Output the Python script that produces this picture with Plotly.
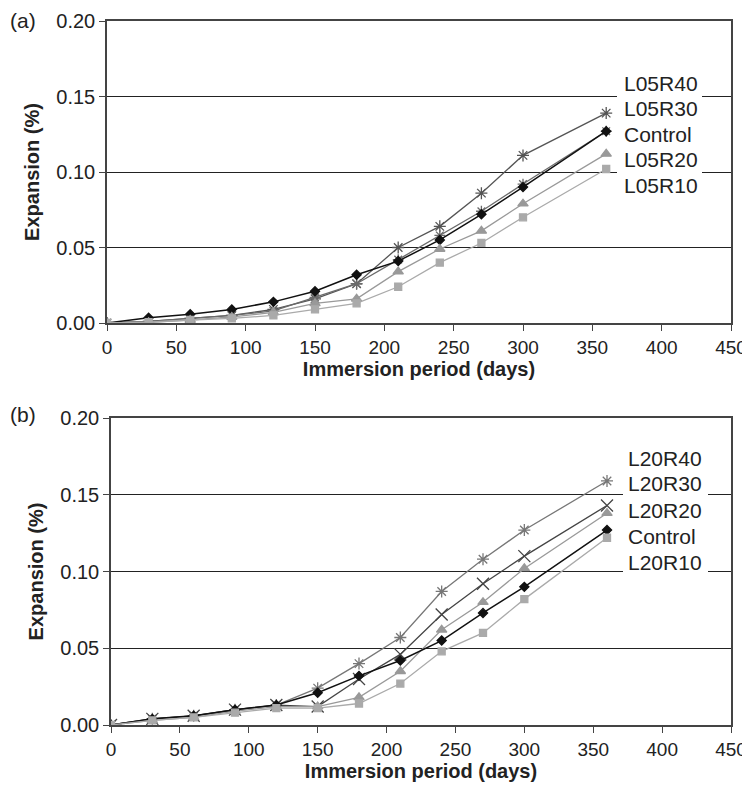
import plotly.graph_objects as go

# page body has an 8px margin, so the figure is placed at (8, 8)
OX, OY = 8, 8
W, H = 750 - OX, 791 - 2 * OY

days = [0, 30, 60, 90, 120, 150, 180, 210, 240, 270, 300, 360]

# Panel (a)
a_names = ["L05R40", "L05R30", "Control", "L05R20", "L05R10"]
a_L05R40 = [0, 0.001, 0.003, 0.005, 0.009, 0.016, 0.026, 0.050, 0.064, 0.086, 0.111, 0.139]
a_L05R30 = [0, 0.001, 0.003, 0.005, 0.008, 0.017, 0.026, 0.042, 0.058, 0.074, 0.092, 0.127]
a_control = [0, 0.0035, 0.0058, 0.009, 0.014, 0.021, 0.032, 0.041, 0.055, 0.072, 0.090, 0.127]
a_L05R20 = [0, 0.0005, 0.002, 0.004, 0.007, 0.013, 0.016, 0.034, 0.049, 0.061, 0.079, 0.112]
a_L05R10 = [0, 0.0005, 0.002, 0.003, 0.005, 0.009, 0.013, 0.024, 0.040, 0.053, 0.070, 0.102]

# Panel (b)
b_names = ["L20R40", "L20R30", "L20R20", "Control", "L20R10"]
b_L20R40 = [0, 0.004, 0.006, 0.010, 0.013, 0.024, 0.040, 0.057, 0.087, 0.108, 0.127, 0.159]
b_L20R30 = [0, 0.004, 0.006, 0.010, 0.013, 0.012, 0.030, 0.046, 0.072, 0.092, 0.110, 0.143]
b_L20R20 = [0, 0.003, 0.005, 0.009, 0.012, 0.012, 0.018, 0.035, 0.062, 0.080, 0.102, 0.138]
b_control = [0, 0.004, 0.006, 0.010, 0.013, 0.021, 0.032, 0.042, 0.055, 0.073, 0.090, 0.127]
b_L20R10 = [0, 0.003, 0.005, 0.008, 0.011, 0.011, 0.014, 0.027, 0.048, 0.060, 0.082, 0.122]

x_ticks = [0, 50, 100, 150, 200, 250, 300, 350, 400, 450]
y_ticks = [0.00, 0.05, 0.10, 0.15, 0.20]

FONT = "Liberation Sans, Arial, sans-serif"

def px(x):
    return (x - OX) / W

def py(y):
    return 1 - (y - OY) / H

fig = go.Figure()

styles_a = [
    (a_L05R40, "asterisk-open", 10, "#555555", 1.3),
    (a_L05R30, "asterisk-open", 9, "#6a6a6a", 1.3),
    (a_control, "diamond", 7, "#111111", 1.5),
    (a_L05R20, "triangle-up", 9, "#999999", 1.3),
    (a_L05R10, "square", 7, "#aaaaaa", 1.3),
]
for (vals, sym, sz, col, lw), name in zip(styles_a, a_names):
    fig.add_trace(go.Scatter(
        x=days, y=vals, name=name, mode="lines+markers",
        line=dict(color=col, width=lw),
        marker=dict(symbol=sym, size=sz, color=col, line=dict(color=col, width=1.3)),
        xaxis="x", yaxis="y", showlegend=False))

styles_b = [
    (b_L20R40, "asterisk-open", 10, "#777777", 1.3),
    (b_L20R30, "x-thin-open", 12, "#444444", 1.3),
    (b_L20R20, "triangle-up", 9, "#999999", 1.3),
    (b_control, "diamond", 7, "#111111", 1.5),
    (b_L20R10, "square", 7, "#aaaaaa", 1.3),
]
for (vals, sym, sz, col, lw), name in zip(styles_b, b_names):
    fig.add_trace(go.Scatter(
        x=days, y=vals, name=name, mode="lines+markers",
        line=dict(color=col, width=lw),
        marker=dict(symbol=sym, size=sz, color=col, line=dict(color=col, width=1.3)),
        xaxis="x2", yaxis="y2", showlegend=False))

def xaxis(domain, anchor):
    return dict(domain=domain, anchor=anchor, range=[0, 450], tickvals=x_ticks,
                automargin=False,
                ticks="outside", ticklen=6, tickcolor="#444", tickwidth=1,
                showline=True, linecolor="#444", linewidth=1.5, mirror=True,
                showgrid=False, zeroline=False,
                tickfont=dict(family=FONT, size=19, color="#222"),
                title=dict(text="<b>Immersion period (days)</b>", standoff=0,
                           font=dict(family=FONT, size=20, color="#222")))

def yaxis(domain, anchor):
    return dict(domain=domain, anchor=anchor, range=[0, 0.2], tickvals=y_ticks,
                automargin=False,
                tickformat=".2f", ticks="outside", ticklen=6, tickcolor="#444",
                showline=True, linecolor="#444", linewidth=1.5, mirror=True,
                showgrid=True, gridcolor="#222", gridwidth=1, zeroline=False,
                tickfont=dict(family=FONT, size=20, color="#222"),
                title=dict(text="<b>Expansion (%)</b>", standoff=11,
                           font=dict(family=FONT, size=20, color="#222")))

fig.update_layout(
    width=W, height=H, margin=dict(l=0, r=0, t=0, b=0, pad=0, autoexpand=False),
    paper_bgcolor="white", plot_bgcolor="white",
    xaxis=xaxis([px(107), px(731)], "y"),
    yaxis=yaxis([py(323), py(21)], "x"),
    xaxis2=xaxis([px(111), px(731)], "y2"),
    yaxis2=yaxis([py(725), py(418)], "x2"),
)

shapes = []
annots = []
# legend-like labels panel (a)
shapes.append(dict(type="rect", xref="paper", yref="paper",
                   x0=px(617), x1=px(702), y0=py(198), y1=py(70),
                   fillcolor="white", line=dict(width=0), layer="above"))
for i, name in enumerate(a_names):
    annots.append(dict(text=name, xref="paper", yref="paper", x=px(622),
                       y=py(83 + 25.5 * i), xanchor="left", yanchor="middle",
                       showarrow=False, font=dict(family=FONT, size=21, color="#222")))
# panel (b)
shapes.append(dict(type="rect", xref="paper", yref="paper",
                   x0=px(623), x1=px(708), y0=py(575), y1=py(445),
                   fillcolor="white", line=dict(width=0), layer="above"))
for i, name in enumerate(b_names):
    annots.append(dict(text=name, xref="paper", yref="paper", x=px(626),
                       y=py(458 + 26 * i), xanchor="left", yanchor="middle",
                       showarrow=False, font=dict(family=FONT, size=21, color="#222")))

annots.append(dict(text="(a)", xref="paper", yref="paper", x=px(8), y=py(20),
                   xanchor="left", yanchor="middle", showarrow=False,
                   font=dict(family=FONT, size=21, color="#222")))
annots.append(dict(text="(b)", xref="paper", yref="paper", x=px(8), y=py(414),
                   xanchor="left", yanchor="middle", showarrow=False,
                   font=dict(family=FONT, size=21, color="#222")))

fig.update_layout(shapes=shapes, annotations=annots)

fig.write_html("out.html")
